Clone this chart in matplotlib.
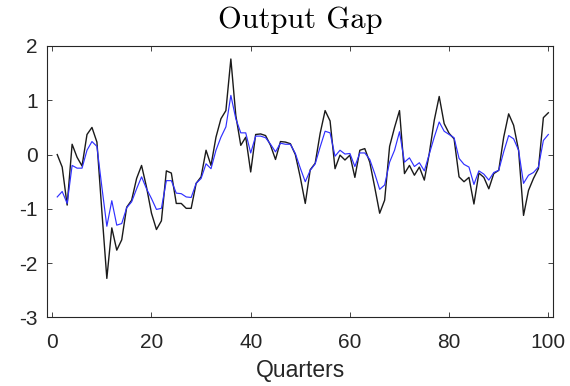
import numpy as np
import matplotlib
matplotlib.use('Agg')
import matplotlib.pyplot as plt

plt.rcParams['axes.unicode_minus'] = False

# --- series, one value per quarter
quarters = np.arange(1, 101)

gap_actual = [
    0.00, -0.23, -0.93, 0.19, -0.05, -0.21, 0.37, 0.50, 0.23, -1.05,
    -2.28, -1.35, -1.76, -1.57, -0.97, -0.84, -0.44, -0.20, -0.60, -1.08,
    -1.38, -1.22, -0.30, -0.34, -0.90, -0.90, -0.99, -0.99, -0.53, -0.41,
    0.08, -0.20, 0.32, 0.66, 0.81, 1.76, 0.72, 0.17, 0.32, -0.32,
    0.37, 0.38, 0.35, 0.17, -0.09, 0.24, 0.23, 0.20, 0.00, -0.42,
    -0.90, -0.28, -0.16, 0.39, 0.81, 0.62, -0.26, -0.01, -0.10, -0.01,
    -0.42, 0.08, 0.11, -0.14, -0.60, -1.08, -0.84, 0.15, 0.50, 0.81,
    -0.35, -0.20, -0.38, -0.23, -0.47, 0.02, 0.63, 1.07, 0.57, 0.39,
    0.29, -0.41, -0.50, -0.42, -0.91, -0.34, -0.42, -0.63, -0.35, -0.29,
    0.32, 0.75, 0.54, 0.08, -1.12, -0.66, -0.44, -0.26, 0.68, 0.77,
]

gap_filtered = [
    -0.78, -0.68, -0.90, -0.20, -0.25, -0.25, 0.08, 0.24, 0.15, -0.60,
    -1.32, -0.85, -1.30, -1.27, -0.98, -0.87, -0.63, -0.41, -0.63, -0.81,
    -1.01, -0.99, -0.48, -0.48, -0.71, -0.72, -0.78, -0.79, -0.53, -0.44,
    -0.17, -0.26, 0.08, 0.32, 0.51, 1.09, 0.66, 0.40, 0.40, 0.03,
    0.34, 0.34, 0.31, 0.19, 0.05, 0.21, 0.19, 0.19, 0.02, -0.25,
    -0.50, -0.29, -0.17, 0.14, 0.43, 0.40, -0.03, 0.08, 0.01, 0.02,
    -0.22, 0.03, 0.03, -0.09, -0.35, -0.64, -0.56, -0.14, 0.08, 0.42,
    -0.14, -0.06, -0.22, -0.15, -0.30, 0.01, 0.32, 0.60, 0.43, 0.37,
    0.31, -0.07, -0.18, -0.23, -0.55, -0.30, -0.36, -0.47, -0.33, -0.29,
    0.05, 0.35, 0.29, 0.08, -0.53, -0.38, -0.33, -0.23, 0.26, 0.37,
]

x_ticks = [0, 20, 40, 60, 80, 100]
y_ticks = [-3, -2, -1, 0, 1, 2]

fig = plt.figure(figsize=(5.7, 3.86), dpi=100)
ax = fig.add_axes([0.083, 0.1775, 0.8877, 0.7034])

ax.plot(quarters, gap_actual, color='#1a1a1a', lw=1.0)
ax.plot(quarters, gap_filtered, color='#3030ff', lw=0.85)

ax.set_xlim(-1, 101)
ax.set_ylim(-3, 2)
ax.set_xticks(x_ticks)
ax.set_yticks(y_ticks)

edge = '#262626'
for s in ax.spines.values():
    s.set_color(edge)
    s.set_linewidth(0.8)
ax.tick_params(direction='in', top=True, right=True, length=3.8, width=0.6,
               color=edge, labelcolor=edge, labelsize=15)
ax.tick_params(axis='x', pad=11.5)
ax.tick_params(axis='y', pad=7)
for lab in ax.get_xticklabels() + ax.get_yticklabels():
    lab.set_fontfamily('Liberation Sans')

ax.set_xlabel('Quarters', fontsize=16.5, family='Liberation Sans',
              color=edge, labelpad=5)
fig.text(0.527, 0.947, 'Output Gap', fontsize=22, family='cmr10',
         ha='center', va='center', color='black')

fig.savefig('out.png', dpi=100)
